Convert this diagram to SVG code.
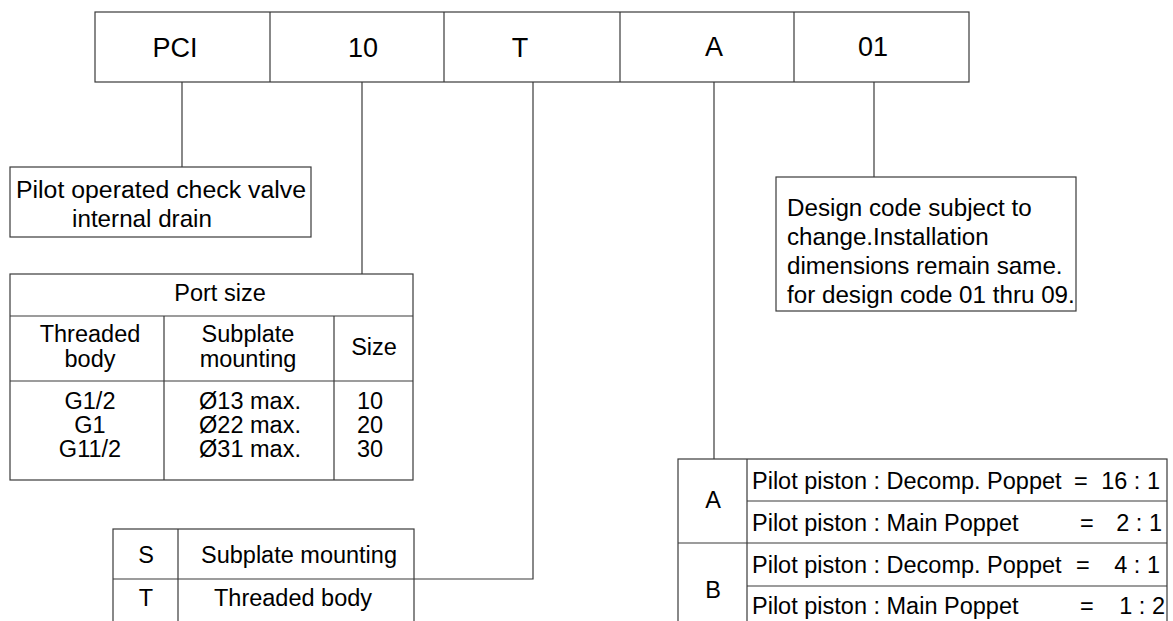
<svg xmlns="http://www.w3.org/2000/svg" width="1173" height="621" viewBox="0 0 1173 621">
<style>
.b{fill:#fff;stroke:#3a3a3a;stroke-width:1.2}
.l{stroke:#3a3a3a;stroke-width:1.2;fill:none}
text{font-family:"Liberation Sans",Arial,sans-serif;fill:#000;font-size:23.5px}
.c{text-anchor:middle}
.e{text-anchor:end}
.big{font-size:27px}
.m{font-size:24.2px}
</style>
<rect width="1173" height="621" fill="#fff"/>
<g id="code">
<rect class="b" x="95" y="12" width="874" height="70"/>
<path class="l" d="M270 12V82M444 12V82M620 12V82M794 12V82"/>
<text class="c big" x="175" y="57">PCI</text>
<text class="c big" x="363" y="57">10</text>
<text class="c big" x="520" y="57">T</text>
<text class="c big" x="714" y="56">A</text>
<text class="c big" x="873" y="56">01</text>
</g>
<g id="connectors">
<path class="l" d="M182 82V167"/>
<path class="l" d="M362 82V274"/>
<path class="l" d="M533 82V579H414"/>
<path class="l" d="M714 82V459"/>
<path class="l" d="M874 82V177"/>
</g>
<g id="type">
<rect class="b" x="10" y="167" width="301" height="70"/>
<text x="16" y="198" textLength="290" lengthAdjust="spacingAndGlyphs">Pilot operated check valve</text>
<text class="c m" x="142" y="227">internal drain</text>
</g>
<g id="portsize">
<rect class="b" x="10" y="274" width="403" height="206"/>
<path class="l" d="M10 316H413M10 381H413M164 316V480M334 316V480"/>
<text class="c" x="220" y="301">Port size</text>
<text class="c" x="90" y="342">Threaded</text>
<text class="c" x="90" y="367">body</text>
<text class="c" x="248" y="342">Subplate</text>
<text class="c" x="248" y="367">mounting</text>
<text class="c" x="374" y="355">Size</text>
<text class="c" x="90" y="409">G1/2</text>
<text class="c" x="90" y="433">G1</text>
<text class="c" x="90" y="457">G11/2</text>
<text class="c" x="250" y="409">Ø13 max.</text>
<text class="c" x="250" y="433">Ø22 max.</text>
<text class="c" x="250" y="457">Ø31 max.</text>
<text class="c" x="370" y="409">10</text>
<text class="c" x="370" y="433">20</text>
<text class="c" x="370" y="457">30</text>
</g>
<g id="mounting">
<rect class="b" x="113" y="529" width="301" height="110"/>
<path class="l" d="M178 529V639M113 579H414"/>
<text class="c" x="146" y="563">S</text>
<text class="c" x="299" y="563">Subplate mounting</text>
<text class="c" x="146" y="606">T</text>
<text class="c" x="293" y="606">Threaded body</text>
</g>
<g id="design">
<rect class="b" x="776" y="177" width="300" height="134"/>
<text class="m" x="787" y="216">Design code subject to</text>
<text class="m" x="787" y="245">change.Installation</text>
<text class="m" x="787" y="274">dimensions remain same.</text>
<text class="m" x="787" y="303">for design code 01 thru 09.</text>
</g>
<g id="ratio">
<rect class="b" x="678" y="459" width="489" height="180"/>
<path class="l" d="M747 459V639M747 501H1167M678 543H1167M747 586H1167"/>
<text class="c" x="713" y="508">A</text>
<text class="c" x="713" y="598">B</text>
<text x="752" y="489">Pilot piston : Decomp. Poppet</text>
<text x="1074" y="489">=</text>
<text class="e" x="1160" y="489">16 : 1</text>
<text x="752" y="531">Pilot piston : Main Poppet</text>
<text x="1080" y="531">=</text>
<text class="e" x="1162" y="531">2 : 1</text>
<text x="752" y="573">Pilot piston : Decomp. Poppet</text>
<text x="1076" y="573">=</text>
<text class="e" x="1160" y="573">4 : 1</text>
<text x="752" y="614">Pilot piston : Main Poppet</text>
<text x="1080" y="614">=</text>
<text class="e" x="1165" y="614">1 : 2</text>
</g>
</svg>
